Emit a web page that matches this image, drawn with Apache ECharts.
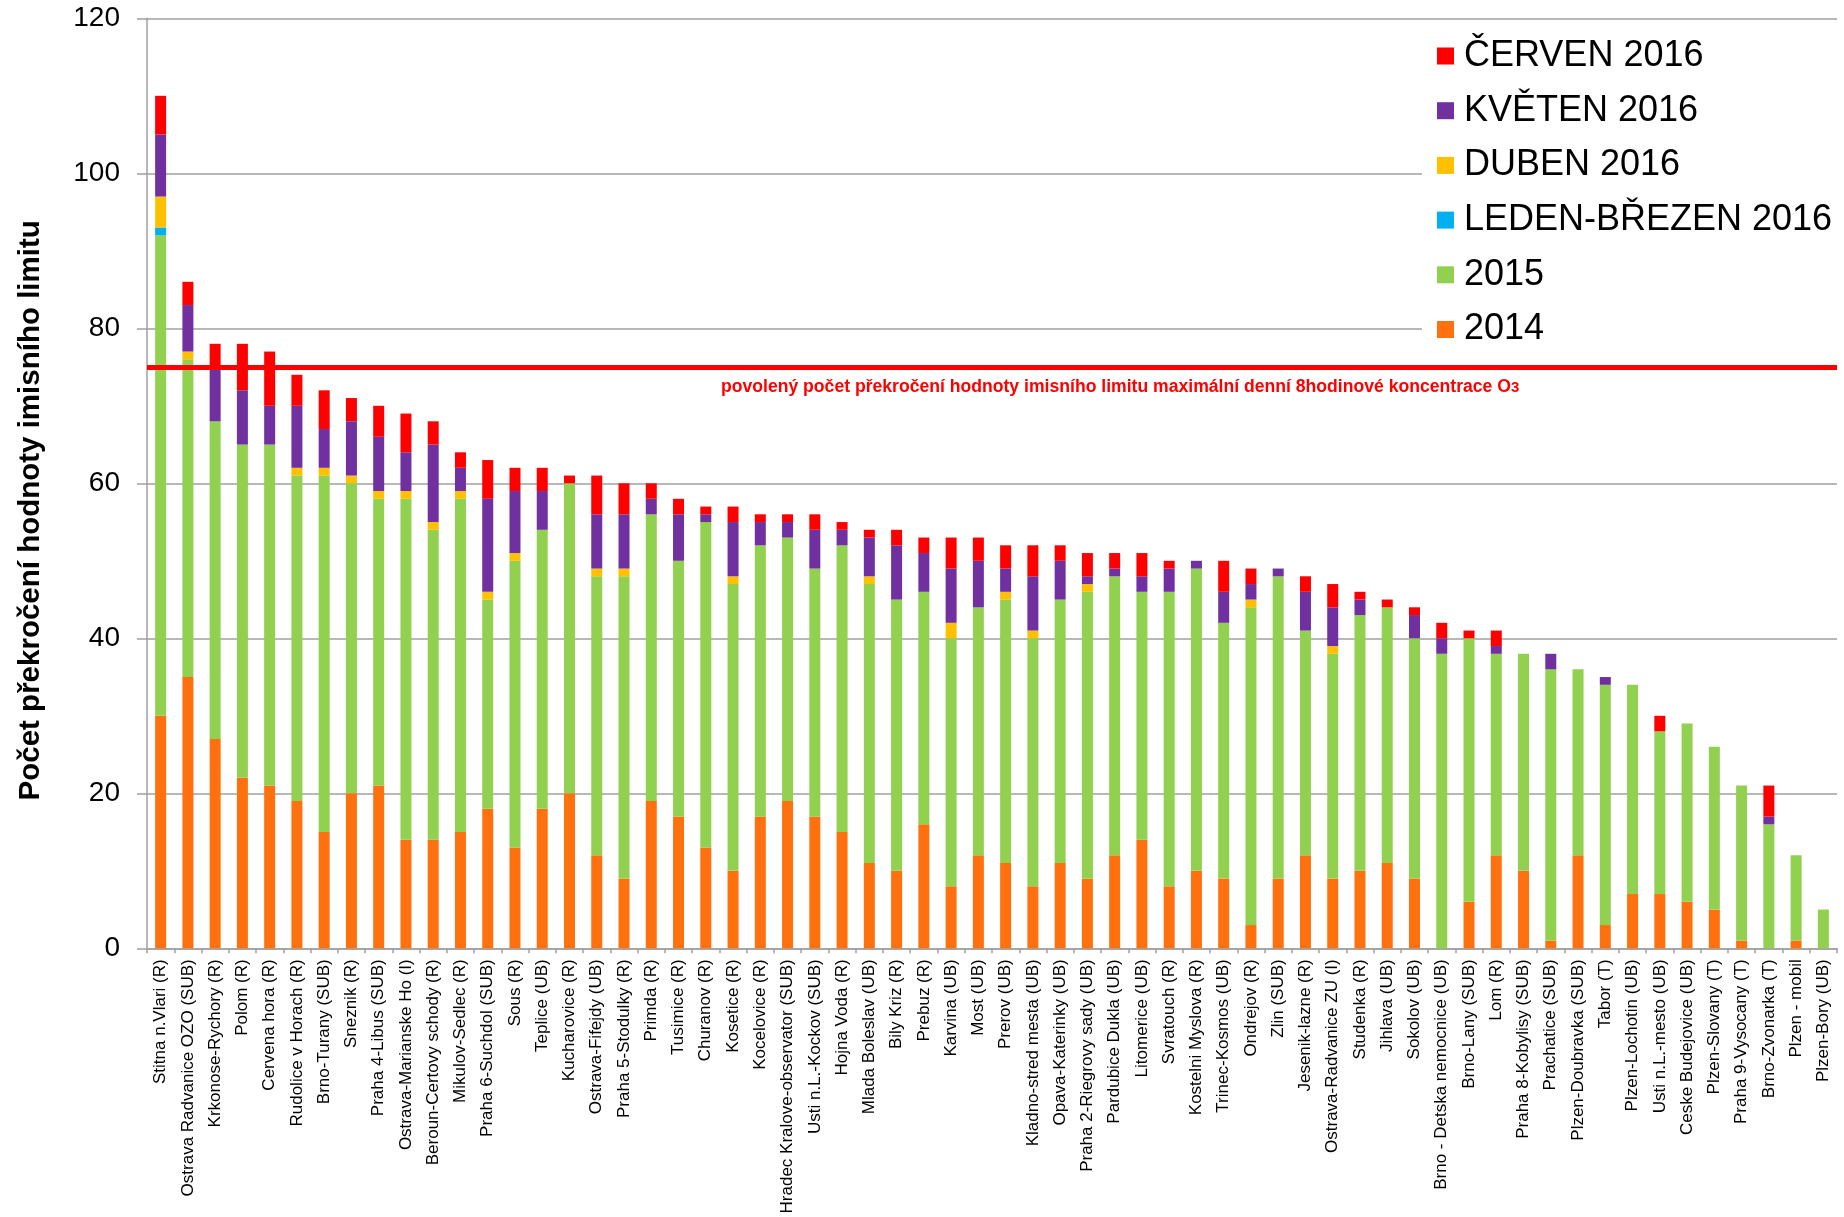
<!DOCTYPE html>
<html>
<head>
<meta charset="utf-8">
<script src="https://cdn.jsdelivr.net/npm/echarts@6/dist/echarts.min.js"></script>
<style>
html,body{margin:0;padding:0;background:#fff;}
#chart{width:1844px;height:1217px;}
</style>
</head>
<body>
<div id="chart"></div>
<script>
var categories = [
"Stitna n.Vlari (R)","Ostrava Radvanice OZO (SUB)","Krkonose-Rychory (R)","Polom (R)","Cervena hora (R)",
"Rudolice v Horach (R)","Brno-Turany (SUB)","Sneznik (R)","Praha 4-Libus (SUB)","Ostrava-Marianske Ho (I)",
"Beroun-Certovy schody (R)","Mikulov-Sedlec (R)","Praha 6-Suchdol (SUB)","Sous (R)","Teplice (UB)",
"Kucharovice (R)","Ostrava-Fifejdy (UB)","Praha 5-Stodulky (R)","Primda (R)","Tusimice (R)",
"Churanov (R)","Kosetice (R)","Kocelovice (R)","Hradec Kralove-observator (SUB)","Usti n.L.-Kockov (SUB)",
"Hojna Voda (R)","Mlada Boleslav (UB)","Bily Kriz (R)","Prebuz (R)","Karvina (UB)",
"Most (UB)","Prerov (UB)","Kladno-stred mesta (UB)","Opava-Katerinky (UB)","Praha 2-Riegrovy sady (UB)",
"Pardubice Dukla (UB)","Litomerice (UB)","Svratouch (R)","Kostelni Myslova (R)","Trinec-Kosmos (UB)",
"Ondrejov (R)","Zlin (SUB)","Jesenik-lazne (R)","Ostrava-Radvanice ZU (I)","Studenka (R)",
"Jihlava (UB)","Sokolov (UB)","Brno - Detska nemocnice (UB)","Brno-Lany (SUB)","Lom (R)",
"Praha 8-Kobylisy (SUB)","Prachatice (SUB)","Plzen-Doubravka (SUB)","Tabor (T)","Plzen-Lochotin (UB)",
"Usti n.L.-mesto (UB)","Ceske Budejovice (UB)","Plzen-Slovany (T)","Praha 9-Vysocany (T)","Brno-Zvonarka (T)",
"Plzen - mobil","Plzen-Bory (UB)"
];

var values2014 = [30,35,27,22,21,19,15,20,21,14,14,15,18,13,18,20,12,9,
  19,17,13,10,17,19,17,15,11,10,16,8,12,11,8,11,9,12,14,8,10,9,
  3,9,12,9,10,11,9,0,6,12,10,1,12,3,7,7,6,5,1,0,1,0];
var values2015 = [62,41,41,43,44,42,46,40,37,44,40,43,27,37,36,40,36,39,
  37,33,42,37,35,34,32,37,36,35,30,32,32,34,32,34,37,36,32,38,39,33,
  41,39,29,29,33,33,31,38,34,26,28,35,24,31,27,21,23,21,20,16,11,5];
var valuesLedenBrezen = [1,0,0,0,0,0,0,0,0,0,0,0,0,0,0,0,0,0,
  0,0,0,0,0,0,0,0,0,0,0,0,0,0,0,0,0,0,0,0,0,0,
  0,0,0,0,0,0,0,0,0,0,0,0,0,0,0,0,0,0,0,0,0,0];
var valuesDuben = [4,1,0,0,0,1,1,1,1,1,1,1,1,1,0,0,1,1,
  0,0,0,1,0,0,0,0,1,0,0,2,0,1,1,0,1,0,0,0,0,0,
  1,0,0,1,0,0,0,0,0,0,0,0,0,0,0,0,0,0,0,0,0,0];
var valuesKveten = [8,6,7,7,5,8,5,7,7,5,10,3,12,8,5,0,7,7,
  2,6,1,7,3,2,5,2,5,7,5,7,6,3,7,5,1,1,2,3,1,4,
  2,1,5,5,2,0,3,2,0,1,0,2,0,1,0,0,0,0,0,1,0,0];
var valuesCerven = [5,3,3,6,7,4,5,3,4,5,3,2,5,3,3,1,5,4,
  2,2,1,2,1,1,2,1,1,2,2,4,3,3,4,2,3,2,3,1,0,4,
  2,0,2,3,1,1,1,2,1,2,0,0,0,0,0,2,0,0,0,4,0,0];

var limitValue = 75;
var yTicks = [0,20,40,60,80,100,120];
var limitText = "povolený počet překročení hodnoty imisního limitu maximální denní 8hodinové koncentrace O";
var yTitle = "Počet překročení hodnoty imisního limitu";

var FONT = "Liberation Sans, Arial, sans-serif";

var seriesDefs = [
  {name:"2014", data:values2014, color:"#FF700F"},
  {name:"2015", data:values2015, color:"#92D050"},
  {name:"LEDEN-BŘEZEN 2016", data:valuesLedenBrezen, color:"#00B0F0"},
  {name:"DUBEN 2016", data:valuesDuben, color:"#FFC000"},
  {name:"KVĚTEN 2016", data:valuesKveten, color:"#7030A0"},
  {name:"ČERVEN 2016", data:valuesCerven, color:"#FF0000"}
];

var series = seriesDefs.map(function(s, i){
  var o = {
    name: s.name,
    type: "bar",
    stack: "total",
    data: s.data,
    barWidth: 11,
    itemStyle: {color: s.color},
    emphasis: {disabled: true}
  };
  if (i === seriesDefs.length - 1) {
    o.markLine = {
      silent: true,
      symbol: ["none","none"],
      label: {show: false},
      lineStyle: {color: "#FF0000", width: 5, type: "solid"},
      data: [{yAxis: limitValue}],
      animation: false
    };
  }
  return o;
});

var chart = echarts.init(document.getElementById("chart"), null, {renderer: "canvas"});
chart.setOption({
  animation: false,
  backgroundColor: "#ffffff",
  textStyle: {fontFamily: FONT},
  grid: {left: 147, right: 7, top: 18.3, bottom: 268.7, containLabel: false},
  legend: {
    orient: "vertical",
    left: 1422,
    top: 24,
    data: ["ČERVEN 2016","KVĚTEN 2016","DUBEN 2016","LEDEN-BŘEZEN 2016","2015","2014"],
    icon: "rect",
    itemWidth: 17,
    itemHeight: 17,
    itemGap: 14.7,
    padding: [12, 200, 2, 15],
    backgroundColor: "#ffffff",
    selectedMode: false,
    textStyle: {fontSize: 36, color: "#000", fontFamily: FONT, lineHeight: 40, padding: [0,0,0,5]},
    z: 10
  },
  xAxis: {
    type: "category",
    data: categories,
    axisLine: {lineStyle: {color: "#A0A0A0", width: 1.5}},
    axisTick: {show: true, length: 5, lineStyle: {color: "#A0A0A0", width: 1.5}},
    axisLabel: {rotate: 90, interval: 0, fontSize: 17, color: "#000", margin: 11, fontFamily: FONT}
  },
  yAxis: {
    type: "value",
    min: yTicks[0],
    max: yTicks[yTicks.length-1],
    interval: 20,
    axisLine: {show: true, lineStyle: {color: "#A0A0A0", width: 1.5}},
    axisTick: {show: true, inside: false, length: 10, lineStyle: {color: "#A0A0A0", width: 1.5}},
    axisLabel: {fontSize: 28, color: "#000", margin: 27, fontFamily: FONT},
    splitLine: {show: true, lineStyle: {color: "#A0A0A0", width: 1.5}}
  },
  series: series
});

var yLine = chart.convertToPixel({yAxisIndex: 0}, limitValue);
var yTop = chart.convertToPixel({yAxisIndex: 0}, 120);
var yBot = chart.convertToPixel({yAxisIndex: 0}, 0);

chart.setOption({
  graphic: [
    {
      type: "text",
      x: 31,
      y: (yTop + yBot) / 2 + 27,
      rotation: Math.PI / 2,
      style: {
        text: yTitle,
        fontSize: 29.5,
        fontWeight: "bold",
        fontFamily: FONT,
        fill: "#000",
        align: "center",
        verticalAlign: "middle"
      },
      z: 20
    },
    {
      type: "text",
      x: 721,
      y: yLine + 20.5,
      style: {
        text: "{a|" + limitText + "}{s|3}",
        rich: {
          a: {fontSize: 17.6, fontWeight: "bold", fill: "#FF0000", fontFamily: FONT},
          s: {fontSize: 15, fontWeight: "bold", fill: "#FF0000", fontFamily: FONT}
        },
        align: "left",
        verticalAlign: "middle"
      },
      z: 20
    }
  ]
});
</script>
</body>
</html>
